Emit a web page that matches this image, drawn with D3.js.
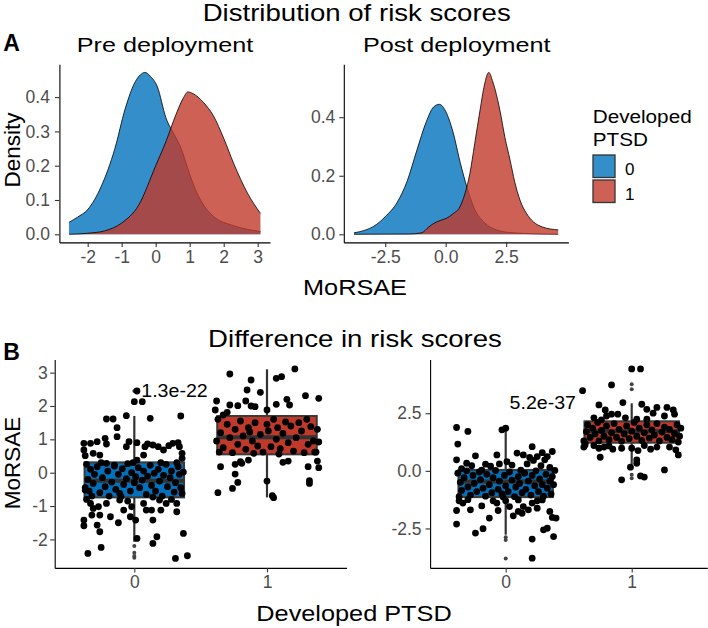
<!DOCTYPE html>
<html><head><meta charset="utf-8">
<script src="https://cdn.jsdelivr.net/npm/d3@7"></script>
<style>body{margin:0;background:#fff}svg{display:block}</style>
</head><body>
<svg id="chart" width="708" height="628"></svg>
<script>
// ---------------- DATA ----------------
const groups = ["0", "1"];
const groupColors = ["#0072BD", "#C0392B"];

// Density curves (x = MoRSAE, y = density)
const prePtsd0X = [-2.55,-2.3,-2.0,-1.6,-1.2,-0.9,-0.6,-0.45,-0.32,-0.15,0.05,0.3,0.55,0.75,0.95,1.15,1.35,1.7,2.3,3.08];
const prePtsd0Y = [0.035,0.05,0.072,0.14,0.25,0.365,0.445,0.465,0.472,0.46,0.43,0.34,0.29,0.25,0.19,0.135,0.095,0.052,0.025,0.008];
const prePtsd1X = [-2.55,-2.0,-1.5,-1.0,-0.5,0.0,0.3,0.6,0.8,0.95,1.1,1.4,1.7,2.0,2.3,2.7,3.08];
const prePtsd1Y = [0.0,0.003,0.01,0.033,0.085,0.2,0.27,0.35,0.395,0.415,0.41,0.385,0.345,0.28,0.205,0.12,0.061];
const postPtsd0X = [-3.79,-3.3,-3.0,-2.5,-2.0,-1.6,-1.2,-0.8,-0.5,-0.26,0.0,0.3,0.6,0.9,1.2,1.6,2.1,2.8,3.6,4.65];
const postPtsd0Y = [0.005,0.015,0.026,0.06,0.11,0.18,0.285,0.385,0.435,0.444,0.42,0.35,0.245,0.155,0.085,0.04,0.015,0.005,0.002,0.0];
const postPtsd1X = [-3.79,-1.5,-1.0,-0.7,-0.5,-0.2,0.04,0.3,0.59,0.8,1.0,1.2,1.42,1.6,1.78,1.95,2.24,2.45,2.66,2.85,3.07,3.35,3.62,4.0,4.65];
const postPtsd1Y = [0.0,0.001,0.005,0.025,0.037,0.048,0.055,0.07,0.094,0.14,0.208,0.31,0.424,0.51,0.553,0.52,0.424,0.33,0.254,0.18,0.117,0.07,0.043,0.025,0.015];

// Density axis ticks
const preDensXTicks = [-2,-1,0,1,2,3];
const preDensXLabels = ["-2","-1","0","1","2","3"];
const preDensYTicks = [0,0.1,0.2,0.3,0.4];
const preDensYLabels = ["0.0","0.1","0.2","0.3","0.4"];
const postDensXTicks = [-2.5,0,2.5];
const postDensXLabels = ["-2.5","0.0","2.5"];
const postDensYTicks = [0,0.2,0.4];
const postDensYLabels = ["0.0","0.2","0.4"];

// Box statistics: [lower whisker, Q1, median, Q3, upper whisker]
const preBox0 = [-2.07,-0.74,-0.24,0.31,1.7];
const preBox1 = [-0.74,0.55,1.06,1.7,3.1];
const postBox0 = [-2.77,-1.14,-0.46,0.04,1.88];
const postBox1 = [0.3,1.22,1.72,2.15,2.93];
const preOutliers0 = [2.45,2.13,-2.2,-2.4,-2.5,-2.55];
const preOutliers1 = [];
const postOutliers0 = [-2.88,-3.0,-3.8];
const postOutliers1 = [4.42,3.76,3.54,-0.17,-0.32];

// Jittered observations: [jitter offset (category units), MoRSAE]
const prePoints0 = [
[0.02,2.45],[0.0,2.13],[0.06,2.13],[-0.21,1.61],[-0.16,1.61],[-0.06,1.71],[0.12,1.63],[0.35,1.7],[-0.13,1.35],[-0.13,1.08],
[-0.38,0.88],[-0.33,0.88],[-0.28,0.93],[-0.22,1.03],[-0.21,0.86],[-0.04,0.93],[-0.06,0.78],
[-0.38,0.68],[-0.37,0.51],[-0.31,0.58],[-0.26,0.53],[0.02,0.9],[0.08,0.78],[0.1,0.86],[0.14,0.83],[0.18,0.78],[0.22,0.68],[0.26,0.81],[0.29,0.88],[0.33,0.9],[0.34,0.78],[0.36,0.58],[0.36,0.43],[0.07,0.53],[0.02,0.38],[-0.21,0.28],[-0.15,0.23],
[-0.36,0.25],[-0.33,0.1],[-0.3,-0.05],[-0.35,-0.2],[-0.37,-0.45],[-0.34,-0.55],[-0.31,-0.32],[-0.28,0.18],[-0.26,-0.6],[-0.24,-0.15],[-0.22,-0.42],[-0.2,0.05],[-0.19,-0.7],[-0.17,-0.28],[-0.15,0.2],[-0.14,-0.5],[-0.12,-0.05],[-0.11,-0.62],[-0.09,0.12],[-0.08,-0.35],[-0.06,-0.18],[-0.05,0.27],[-0.03,-0.55],[-0.02,0.0],[0.0,-0.3],[0.01,-0.12],[0.03,0.15],[0.04,-0.45],[0.06,-0.22],[0.07,0.05],[0.09,-0.65],[0.1,-0.1],[0.12,0.22],[0.13,-0.38],[0.15,-0.02],[0.16,-0.55],[0.18,0.1],[0.19,-0.25],[0.21,-0.7],[0.22,-0.08],[0.24,0.25],[0.25,-0.42],[0.27,-0.15],[0.28,0.05],[0.3,-0.58],[0.31,-0.3],[0.33,0.18],[0.34,-0.05],[0.35,-0.45],[0.36,-0.62],[0.37,0.02],[0.32,0.3],[-0.01,0.3],[-0.25,0.3],[0.2,0.3],[-0.1,-0.72],[0.14,-0.73],[-0.32,-0.7],
[-0.37,-0.52],[-0.33,-0.92],[-0.31,-1.07],[-0.27,-1.02],[-0.26,-1.27],[-0.32,-1.27],[-0.38,-1.42],[-0.38,-1.59],[-0.28,-1.57],[-0.26,-1.77],[-0.18,-1.32],[-0.12,-1.5],[-0.08,-1.12],[-0.03,-1.32],[-0.02,-1.02],[0.01,-1.42],[0.02,-1.97],[0.07,-0.92],[0.09,-1.12],[0.13,-1.12],[0.14,-1.42],[0.2,-1.12],[0.17,-1.92],[0.14,-2.12],[0.32,-0.92],[0.32,-1.17],[0.37,-1.82],[-0.35,-2.42],[-0.25,-2.24],[0.31,-2.57],[0.4,-2.49],[0.24,-0.92],[0.19,-0.82],[-0.11,-0.82],[-0.21,-0.92],[-0.05,-0.85],[0.28,-0.8],[-0.36,-0.8]
];
const prePoints1 = [
[-0.28,2.96],[0.21,3.11],[-0.12,2.78],[0.07,2.83],[0.11,2.88],[-0.15,2.48],[-0.05,2.41],[-0.38,2.15],[-0.16,2.15],[0.29,2.31],[0.39,2.23],[0.15,2.2],[-0.39,1.88],[-0.28,2.03],[-0.22,2.01],[-0.12,2.0],[-0.09,1.98],[0.0,1.88],[0.07,2.05],[0.17,2.03],[-0.33,1.73],[-0.3,1.81],
[-0.37,1.6],[-0.35,1.2],[-0.38,0.95],[-0.33,0.75],[-0.3,1.45],[-0.28,1.05],[-0.26,0.6],[-0.24,1.3],[-0.22,0.85],[-0.2,1.55],[-0.18,1.1],[-0.16,0.7],[-0.14,1.35],[-0.13,1.22],[-0.11,0.95],[-0.09,1.5],[-0.07,0.8],[-0.05,1.15],[-0.03,0.62],[0.0,1.45],[0.01,1.25],[0.03,0.78],[0.05,1.6],[0.07,1.0],[0.08,1.35],[0.1,0.72],[0.12,1.18],[0.14,1.52],[0.16,0.9],[0.18,1.4],[0.2,0.65],[0.22,1.05],[0.24,1.5],[0.26,1.25],[0.28,0.6],[0.3,1.6],[0.31,0.85],[0.33,1.38],[0.35,0.95],[0.36,0.62],[0.38,1.3],[0.39,0.92],[0.37,0.62],[-0.36,0.62],[0.09,0.56],[-0.1,0.58],
[-0.35,0.18],[-0.24,0.25],[-0.19,0.28],[-0.14,0.38],[-0.2,0.33],[0.12,0.31],[0.16,0.35],[0.31,0.18],[0.39,0.15],[0.38,0.35],[-0.24,-0.04],[-0.22,-0.29],[0.32,-0.24],[0.32,-0.32],[0.0,-0.25],[-0.37,-0.6],[-0.26,-0.47],[0.05,-0.75],[0.04,-0.69]
];
const postPoints0 = [
[-0.39,1.88],[-0.3,1.71],[-0.38,1.16],[-0.03,1.78],[0.0,1.85],[-0.07,0.69],[-0.24,0.65],[-0.39,0.48],[-0.31,0.33],[-0.16,0.29],[0.09,0.77],[0.14,0.69],[0.21,1.05],[0.29,0.79],[0.37,0.84],[0.33,0.62],[0.25,0.62],[0.19,0.58],[0.01,0.4],
[-0.35,0.1],[-0.12,0.2],[0.05,0.25],[0.17,0.3],[0.28,0.22],[0.35,0.15],[-0.27,0.22],[0.22,0.45],[0.31,0.48],[-0.05,0.3],
[-0.38,-0.1],[-0.36,-0.5],[-0.35,-0.85],[-0.33,-0.3],[-0.31,0.0],[-0.3,-0.7],[-0.28,-1.05],[-0.26,-0.2],[-0.25,-0.55],[-0.23,-0.9],[-0.21,-0.05],[-0.2,-0.38],[-0.18,-0.75],[-0.16,-1.1],[-0.15,-0.15],[-0.13,-0.6],[-0.11,-0.95],[-0.1,-0.3],[-0.08,0.02],[-0.06,-0.8],[-0.05,-0.45],[-0.03,-1.0],[-0.01,-0.2],[0.0,-0.65],[0.02,-0.9],[0.03,-0.05],[0.05,-0.4],[0.07,-1.12],[0.08,-0.7],[0.1,-0.25],[0.11,-0.55],[0.13,-0.95],[0.15,-0.1],[0.16,-0.8],[0.18,-0.45],[0.2,-1.05],[0.21,-0.2],[0.23,-0.65],[0.24,0.0],[0.26,-0.9],[0.27,-0.35],[0.29,-0.6],[0.3,-1.1],[0.32,-0.15],[0.33,-0.75],[0.35,-0.45],[0.36,-1.0],[0.37,-0.25],[0.38,-0.6],[0.39,0.02],[-0.37,-1.12],[0.12,0.03],[-0.19,0.03],[-0.02,-1.13],
[-0.39,-1.72],[-0.39,-2.31],[-0.24,-2.7],[-0.18,-2.51],[-0.13,-2.05],[-0.28,-1.69],[-0.34,-1.4],[-0.19,-1.52],[-0.07,-1.4],[-0.06,-1.72],[0.03,-1.55],[0.06,-1.95],[0.1,-1.76],[0.14,-1.55],[0.18,-1.69],[0.21,-1.4],[0.25,-1.62],[0.29,-1.26],[0.3,-2.56],[0.33,-2.49],[0.38,-2.85],[0.35,-1.76],[0.37,-2.02],[0.4,-2.05],[0.21,-2.96],[0.21,-3.79],[0.13,-1.84],[0.1,-1.26],[-0.3,-1.25],[-0.1,-1.3],[0.0,-1.3],[0.25,-1.3],[-0.37,-1.3]
];
const postPoints1 = [
[0.0,4.42],[0.07,4.42],[-0.39,3.48],[-0.16,3.73],[-0.07,2.96],[-0.26,2.86],[-0.21,2.64],[-0.16,2.46],[-0.11,2.46],[0.08,2.89],[0.12,2.67],[0.2,2.75],[0.28,2.75],[0.33,2.64],[0.34,2.46],[0.17,2.5],[0.12,2.24],[0.04,2.24],[-0.2,2.38],[-0.24,2.21],[0.26,2.38],[-0.3,2.3],[-0.05,2.3],
[-0.38,1.3],[-0.36,1.7],[-0.35,2.0],[-0.33,1.45],[-0.31,1.85],[-0.29,1.6],[-0.27,2.1],[-0.26,1.3],[-0.24,1.75],[-0.22,1.5],[-0.2,1.95],[-0.18,1.35],[-0.16,1.65],[-0.14,2.05],[-0.12,1.45],[-0.1,1.8],[-0.08,1.28],[-0.06,1.6],[-0.04,1.95],[-0.02,1.4],[0.0,1.72],[0.02,2.1],[0.04,1.5],[0.06,1.85],[0.08,1.32],[0.1,1.65],[0.12,2.0],[0.14,1.42],[0.16,1.78],[0.18,1.55],[0.2,2.05],[0.22,1.3],[0.24,1.68],[0.26,1.9],[0.28,1.45],[0.3,1.8],[0.32,1.35],[0.34,1.62],[0.36,2.0],[0.38,1.5],[0.39,1.85],[0.37,1.25],[-0.37,1.2],
[-0.38,1.03],[-0.37,1.12],[-0.26,0.98],[-0.22,1.03],[-0.18,1.08],[-0.15,0.94],[-0.08,0.98],[-0.25,0.59],[0.0,0.98],[0.05,0.88],[0.04,0.48],[0.04,0.33],[-0.01,0.16],[0.15,0.94],[0.2,1.03],[0.3,1.03],[0.35,0.91],[0.37,0.69],[0.26,0.04],[-0.08,-0.39],[0.07,-0.22],[0.1,-0.27],[-0.3,1.1],[0.1,1.1]
];

// Box axis ticks
const preBoxYTicks = [-2,-1,0,1,2,3];
const preBoxYLabels = ["-2","-1","0","1","2","3"];
const postBoxYTicks = [-2.5,0,2.5];
const postBoxYLabels = ["-2.5","0.0","2.5"];

const pLabels = ["1.3e-22", "5.2e-37"];

// ---------------- DRAWING ----------------
const FONT = "'Liberation Sans', Arial, Helvetica, sans-serif";
const svg = d3.select("#chart");

function label(str, x, y, o = {}) {
  let tr = `translate(${x},${y})`;
  if (o.rot) tr += ` rotate(${o.rot})`;
  tr += ` scale(${o.sx || 1},1)`;
  return svg.append("text").text(str)
    .attr("transform", tr)
    .attr("font-family", FONT)
    .attr("font-size", o.size || 17)
    .attr("font-weight", o.bold ? "bold" : "normal")
    .attr("text-anchor", o.anchor || "middle")
    .attr("fill", o.fill || "#000");
}

function expand(ext) {
  const w = ext[1] - ext[0];
  return [ext[0] - 0.05 * w, ext[1] + 0.05 * w];
}

function styleAxis(g) {
  g.attr("font-family", FONT).attr("font-size", 17.5);
  g.select(".domain").attr("stroke", "#000").attr("stroke-width", 1.1);
  g.selectAll(".tick line").attr("stroke", "#333").attr("stroke-width", 1.1);
  g.selectAll(".tick text").attr("fill", "#4D4D4D");
}

function densityPanel(cfg) {
  const allX = cfg.curves.flatMap(c => c.xs);
  const allY = cfg.curves.flatMap(c => c.ys);
  const x = d3.scaleLinear().domain(expand(d3.extent(allX))).range([cfg.left, cfg.right]);
  const y = d3.scaleLinear().domain(expand([0, d3.max(allY)])).range([cfg.bottom, cfg.top]);
  const g = svg.append("g");
  cfg.curves.forEach((c, k) => {
    const pts = c.xs.map((v, i) => [v, c.ys[i]]);
    g.append("path").datum(pts)
      .attr("d", d3.area().x(d => x(d[0])).y0(y(0)).y1(d => y(d[1])).curve(d3.curveMonotoneX))
      .attr("fill", groupColors[k]).attr("fill-opacity", 0.8);
    g.append("path").datum(pts)
      .attr("d", d3.line().x(d => x(d[0])).y(d => y(d[1])).curve(d3.curveMonotoneX))
      .attr("fill", "none").attr("stroke", "#000").attr("stroke-width", 0.8);
  });
  const gx = svg.append("g").attr("transform", `translate(0,${cfg.bottom})`)
    .call(d3.axisBottom(x).tickValues(cfg.xTicks).tickFormat((d, i) => cfg.xLabels[i]).tickSize(4.5).tickSizeOuter(0).tickPadding(3.5));
  styleAxis(gx);
  const gy = svg.append("g").attr("transform", `translate(${cfg.left},0)`)
    .call(d3.axisLeft(y).tickValues(cfg.yTicks).tickFormat((d, i) => cfg.yLabels[i]).tickSize(4.5).tickSizeOuter(0).tickPadding(cfg.ypad));
  styleAxis(gy);
}

function boxPanel(cfg) {
  const allV = cfg.points.flatMap(p => p.map(d => d[1])).concat(cfg.outliers.flat(), cfg.boxes.flat());
  const x = d3.scaleLinear().domain([-0.6, 1.6]).range([cfg.left, cfg.right]);
  const y = d3.scaleLinear().domain(expand(d3.extent(allV))).range([cfg.bottom, cfg.top]);
  const g = svg.append("g");
  const bw = 0.75;
  cfg.boxes.forEach((b, k) => {
    const cx = x(k);
    g.append("line").attr("x1", cx).attr("x2", cx).attr("y1", y(b[0])).attr("y2", y(b[4]))
      .attr("stroke", "#333").attr("stroke-width", 2.2);
    g.append("rect").attr("x", x(k - bw / 2)).attr("width", x(k + bw / 2) - x(k - bw / 2))
      .attr("y", y(b[3])).attr("height", y(b[1]) - y(b[3]))
      .attr("fill", groupColors[k]).attr("stroke", "#3a3a3a").attr("stroke-width", 2);
    g.append("line").attr("x1", x(k - bw / 2)).attr("x2", x(k + bw / 2)).attr("y1", y(b[2])).attr("y2", y(b[2]))
      .attr("stroke", "#333").attr("stroke-width", 4);
    g.selectAll(null).data(cfg.outliers[k]).join("circle")
      .attr("cx", cx).attr("cy", d => y(d)).attr("r", 2).attr("fill", "#444");
  });
  cfg.points.forEach((pts, k) => {
    g.selectAll(null).data(pts).join("circle")
      .attr("cx", d => x(k + d[0])).attr("cy", d => y(d[1])).attr("r", 3.4).attr("fill", "#000");
  });
  const gx = svg.append("g").attr("transform", `translate(0,${cfg.bottom})`)
    .call(d3.axisBottom(x).tickValues([0, 1]).tickFormat((d, i) => groups[i]).tickSize(4.5).tickSizeOuter(0).tickPadding(3.5));
  styleAxis(gx);
  const gy = svg.append("g").attr("transform", `translate(${cfg.left},0)`)
    .call(d3.axisLeft(y).tickValues(cfg.yTicks).tickFormat((d, i) => cfg.yLabels[i]).tickSize(4.5).tickSizeOuter(0).tickPadding(cfg.ypad));
  styleAxis(gy);
  label(cfg.pLabel, cfg.pX, cfg.pY, { size: 17.5, sx: 1.12 });
}

densityPanel({
  curves: [{ xs: prePtsd0X, ys: prePtsd0Y }, { xs: prePtsd1X, ys: prePtsd1Y }],
  left: 59.4, right: 270, top: 64.3, bottom: 242.4,
  xTicks: preDensXTicks, xLabels: preDensXLabels, yTicks: preDensYTicks, yLabels: preDensYLabels, ypad: 5
});
densityPanel({
  curves: [{ xs: postPtsd0X, ys: postPtsd0Y }, { xs: postPtsd1X, ys: postPtsd1Y }],
  left: 343.8, right: 568.4, top: 64.3, bottom: 242.4,
  xTicks: postDensXTicks, xLabels: postDensXLabels, yTicks: postDensYTicks, yLabels: postDensYLabels, ypad: 4
});
boxPanel({
  boxes: [preBox0, preBox1], outliers: [preOutliers0, preOutliers1], points: [prePoints0, prePoints1],
  left: 54.7, right: 346.6, top: 359.5, bottom: 567.9,
  yTicks: preBoxYTicks, yLabels: preBoxYLabels, ypad: 2.5,
  pLabel: pLabels[0], pX: 174.5, pY: 396.7
});
boxPanel({
  boxes: [postBox0, postBox1], outliers: [postOutliers0, postOutliers1], points: [postPoints0, postPoints1],
  left: 430.1, right: 707.3, top: 359.5, bottom: 567.9,
  yTicks: postBoxYTicks, yLabels: postBoxYLabels, ypad: 4,
  pLabel: pLabels[1], pX: 542.8, pY: 409.3
});

// Titles and labels
label("Distribution of risk scores", 356.7, 21, { size: 23, sx: 1.2 });
label("A", 3.3, 50.7, { size: 23, bold: true, anchor: "start" });
label("Pre deployment", 165, 51.7, { size: 21, sx: 1.2 });
label("Post deployment", 456.7, 51.7, { size: 21, sx: 1.2 });
label("Density", 20, 150, { size: 22.5, rot: -90 });
label("MoRSAE", 355, 295, { size: 22, sx: 1.15 });

label("Difference in risk scores", 355, 346.7, { size: 23, sx: 1.2 });
label("B", 3.3, 360, { size: 23, bold: true, anchor: "start" });
label("MoRSAE", 20, 463, { size: 22.5, rot: -90 });
label("Developed PTSD", 354, 621, { size: 22, sx: 1.15 });

// Legend
label("Developed", 592.7, 122.7, { size: 19, sx: 1.09, anchor: "start" });
label("PTSD", 592.7, 145.5, { size: 19, sx: 1.09, anchor: "start" });
groups.forEach((gname, k) => {
  const y0 = 155 + k * 25;
  svg.append("rect").attr("x", 593).attr("y", y0).attr("width", 22).attr("height", 22.5)
    .attr("fill", groupColors[k]).attr("fill-opacity", 0.8).attr("stroke", "#333").attr("stroke-width", 1.3);
  label(gname, 625, y0 + 19.5, { size: 17, anchor: "start" });
});
</script>
</body></html>
